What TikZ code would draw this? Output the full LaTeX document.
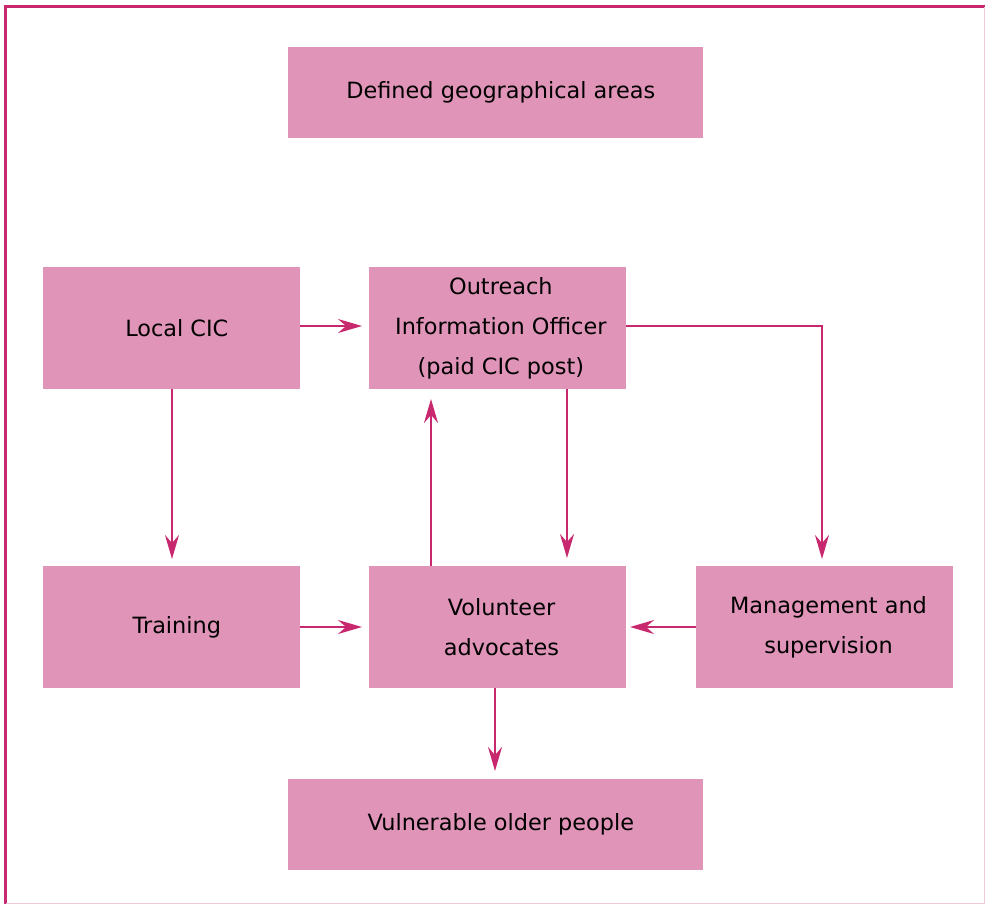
\documentclass[tikz,border=0pt]{standalone}
\usepackage{fontspec}
\setmainfont{DejaVu Sans}
\usetikzlibrary{arrows.meta}
\definecolor{boxpink}{HTML}{E094B8}
\definecolor{linemag}{HTML}{C8286E}
\definecolor{framefaint}{HTML}{EDC9D9}
\begin{document}
\begin{tikzpicture}[x=0.75pt,y=-0.75pt,
  box/.style={fill=boxpink,draw=none,minimum width=257*0.75pt,minimum height=122*0.75pt,
    inner sep=0pt,align=center,font=\fontsize{16.8}{30}\selectfont},
  widebox/.style={box,minimum width=415*0.75pt,minimum height=91*0.75pt},
  conn/.style={draw=linemag,line width=1.6pt,
    -{Stealth[length=18pt,width=10.5pt,inset=6pt]}},
  frame/.style={draw=linemag,line width=1.6pt}]
\useasboundingbox (0,0) rectangle (985,904);
% outer frame
\draw[frame] (5.5,904) -- (5.5,6.5) -- (985,6.5);
\draw[draw=framefaint,line width=1pt] (984.5,6.5) -- (984.5,903.5) -- (5.5,903.5);
% boxes
\node[widebox] (geo) at (495.5,92.5) {\hspace*{8pt}Defined geographical areas};
\node[box] (cic) at (171.5,328) {\hspace*{8pt}Local CIC};
\node[box] (oio) at (497.5,328) {\hspace*{5pt}Outreach\\\hspace*{5pt}Information Officer\\\hspace*{5pt}(paid CIC post)};
\node[box] (train) at (171.5,627) {\hspace*{8pt}Training};
\node[box] (vol) at (497.5,627) {\hspace*{6pt}Volunteer\\\hspace*{6pt}advocates};
\node[box] (mgmt) at (824.5,627) {\hspace*{6pt}Management and\\\hspace*{6pt}supervision};
\node[widebox] (old) at (495.5,824.5) {\hspace*{8pt}Vulnerable older people};
% connectors
\coordinate (turn) at (822,326);
\draw[conn] (cic.east |- 0,326) -- (362,326);
\draw[conn] (172,389) -- (172,559);
\draw[conn] (567,389) -- (567,558);
\draw[conn] (431,566) -- (431,399);
\draw[conn] (626,326) -- (turn) -- (822,559);
\draw[conn] (train.east) -- (362,627);
\draw[conn] (mgmt.west) -- (630,627);
\draw[conn] (495,688) -- (495,771);
\end{tikzpicture}
\end{document}
